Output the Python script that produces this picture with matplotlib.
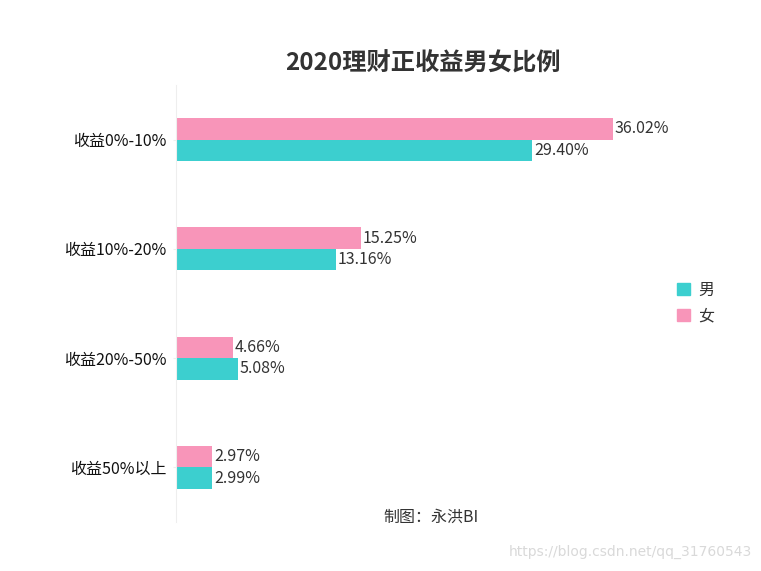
import numpy as np
import matplotlib.pyplot as plt
from matplotlib.patches import Patch

plt.rcParams['font.family'] = ['Noto Sans CJK SC', 'DejaVu Sans']

categories = ['收益0%-10%', '收益10%-20%', '收益20%-50%', '收益50%以上']
male = [29.40, 13.16, 5.08, 2.99]
female = [36.02, 15.25, 4.66, 2.97]

c_male = '#3ccfcf'
c_female = '#f895b9'
txt = '#333333'

fig = plt.figure(figsize=(7.61, 5.71), dpi=100)
ax = fig.add_axes([176 / 761, 1 - 522 / 571, 485 / 761, 437 / 571])

y = np.arange(len(categories))
h = 0.197
ax.barh(y - h / 2, female, height=h, color=c_female, label='女')
ax.barh(y + h / 2, male, height=h, color=c_male, label='男')

for yi, v in zip(y, female):
    ax.text(v + 0.15, yi - h / 2, f'{v:.2f}%', va='center', ha='left', fontsize=11.5, color=txt)
for yi, v in zip(y, male):
    ax.text(v + 0.15, yi + h / 2, f'{v:.2f}%', va='center', ha='left', fontsize=11.5, color=txt)

ax.set_xlim(0, 40)
ax.set_ylim(3.5, -0.5)
ax.set_yticks(y)
ax.set_yticklabels(categories, fontsize=11.5, color='#111111')
ax.tick_params(axis='y', length=2, color='#eeeeee', pad=5)
ax.set_xticks([])
for s in ['top', 'right', 'bottom']:
    ax.spines[s].set_visible(False)
ax.spines['left'].set_color('#eeeeee')

fig.text(423 / 761, 1 - 64 / 571, '2020理财正收益男女比例', ha='center', va='center',
         fontsize=17.5, fontweight='bold', color=txt)

handles = [Patch(color=c_male, label='男'), Patch(color=c_female, label='女')]
fig.legend(handles=handles, loc='center left', bbox_to_anchor=(663 / 761, 1 - 303 / 571),
           frameon=False, fontsize=11.5, handlelength=0.8, handleheight=0.8,
           handletextpad=0.5, labelspacing=0.55, labelcolor=txt)

fig.text(431 / 761, 1 - 517 / 571, '制图：永洪BI', ha='center', va='center', fontsize=11.5, color=txt)
fig.text(752 / 761, 1 - 552 / 571, 'https://blog.csdn.net/qq_31760543', ha='right', va='center',
         fontsize=10, color='#d9d9d9', family=['DejaVu Sans'])

fig.savefig('out.png', dpi=100)
